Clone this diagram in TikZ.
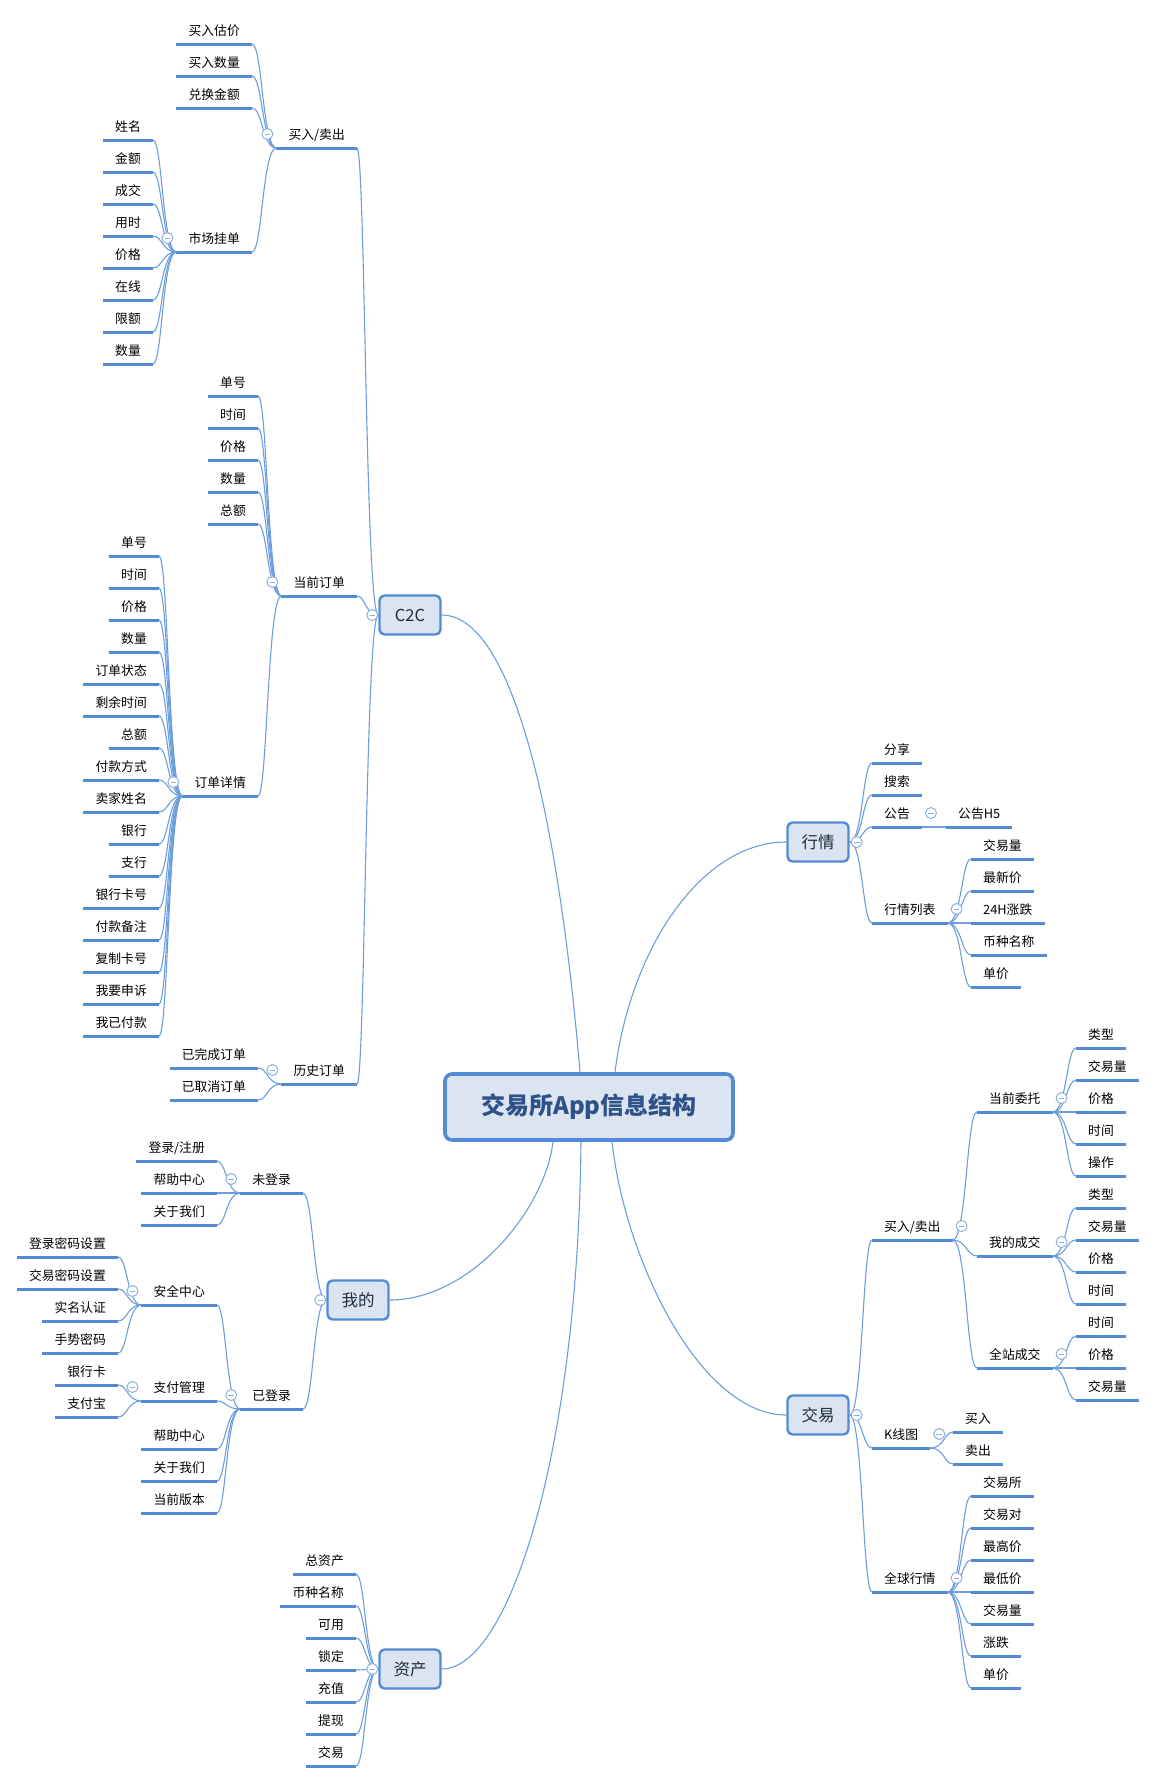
\documentclass[tikz,border=0pt]{standalone}
\usepackage{fontspec}
\setmainfont{Noto Sans CJK SC}
\usetikzlibrary{calc}

\definecolor{mblue}{HTML}{528BD4}
\definecolor{lblue}{HTML}{6C9DDC}
\definecolor{fblue}{HTML}{8FB0DE}
\definecolor{boxfill}{HTML}{DBE5F2}
\definecolor{rootblue}{HTML}{2E5288}
\definecolor{navy}{HTML}{1E2B3C}

\tikzset{
  topic/.style={font=\fontsize{12.8}{15}\selectfont, text=black, inner xsep=12pt, inner ysep=6pt,
    text height=10pt, text depth=2pt,
    append after command={(\tikzlastnode.south west) edge[uline] (\tikzlastnode.south east)}},
  uline/.style={draw=mblue, line width=3pt},
  link/.style={draw=lblue, line width=1.1pt},
  lbr/.style={to path={.. controls ($(\tikztostart)+(-#1,0)$) and ($(\tikztostart |- \tikztotarget)+(-#1,0)$) .. (\tikztotarget)}},
  lbr/.default=14,
  rbr/.style={to path={.. controls ($(\tikztostart)+(#1,0)$) and ($(\tikztostart |- \tikztotarget)+(#1,0)$) .. (\tikztotarget)}},
  rbr/.default=14,
  root/.style={draw=mblue, line width=3.6pt, fill=boxfill, rounded corners=7pt, minimum width=288pt,
    minimum height=66pt, text=rootblue, font=\bfseries\fontsize{24}{28}\selectfont},
  branch/.style={draw=mblue, line width=2.4pt, fill=boxfill, rounded corners=5pt, minimum width=61pt,
    minimum height=39pt, text=navy, font=\fontsize{16.5}{19}\selectfont},
  fold/.style={circle, draw=fblue, fill=white, line width=1pt, minimum size=11pt, inner sep=0pt,
    path picture={\draw[fblue, line width=1pt] ([xshift=-2.8pt]path picture bounding box.center) -- ([xshift=2.8pt]path picture bounding box.center);}}
}

\begin{document}
\begin{tikzpicture}[x=1pt, y=-1pt]
\useasboundingbox (0,0) rectangle (1156,1783);

% centre and main branches
\node[root] (root) at (589,1107) {交易所App信息结构};
\node[branch] (c2c) at (410,615) {C2C};
\node[branch] (wode) at (358,1300) {我的};
\node[branch] (zc) at (410,1669) {资产};
\node[branch] (hq) at (818,842) {行情};
\node[branch] (jy) at (818,1415) {交易};

\draw[link] ([xshift=-9pt]root.north) .. controls +(-23,-272) and +(68,0) .. (c2c.east);
\draw[link] ([xshift=26pt]root.north) .. controls +(15,-122) and +(-86,0) .. (hq.west);
\draw[link] ([xshift=-36pt]root.south) .. controls +(-8,68) and +(81,0) .. (wode.east);
\draw[link] ([xshift=23pt]root.south) .. controls +(13,118) and +(-86,0) .. (jy.west);
\draw[link] ([xshift=-8pt]root.south) .. controls +(-3,308) and +(68,0) .. (zc.east);

% C2C
\node[topic, anchor=south east] (mm) at (357,148) {买入/卖出};
\draw[link] (c2c.west) to[lbr=13] (mm.south east);
\foreach \t [count=\i] in {买入估价,买入数量,兑换金额} {
  \node[topic, anchor=south east] (mm\i) at (252,12+32*\i) {\t};
  \draw[link] (mm.south west) to[lbr] (mm\i.south east);
}
\node[topic, anchor=south east] (gd) at (252,252) {市场挂单};
\draw[link] (mm.south west) to[lbr] (gd.south east);
\foreach \t [count=\i] in {姓名,金额,成交,用时,价格,在线,限额,数量} {
  \node[topic, anchor=south east] (gd\i) at (153,108+32*\i) {\t};
  \draw[link] (gd.south west) to[lbr] (gd\i.south east);
}

\node[topic, anchor=south east] (dq) at (357,596) {当前订单};
\draw[link] (c2c.west) to[lbr=13] (dq.south east);
\foreach \t [count=\i] in {单号,时间,价格,数量,总额} {
  \node[topic, anchor=south east] (dq\i) at (258,364+32*\i) {\t};
  \draw[link] (dq.south west) to[lbr] (dq\i.south east);
}
\node[topic, anchor=south east] (xq) at (258,796) {订单详情};
\draw[link] (dq.south west) to[lbr] (xq.south east);
\foreach \t [count=\i] in {单号,时间,价格,数量,订单状态,剩余时间,总额,付款方式,卖家姓名,银行,支行,银行卡号,付款备注,复制卡号,我要申诉,我已付款} {
  \node[topic, anchor=south east] (xq\i) at (159,524+32*\i) {\t};
  \draw[link] (xq.south west) to[lbr] (xq\i.south east);
}

\node[topic, anchor=south east] (ls) at (357,1084) {历史订单};
\draw[link] (c2c.west) to[lbr=13] (ls.south east);
\foreach \t [count=\i] in {已完成订单,已取消订单} {
  \node[topic, anchor=south east] (ls\i) at (258,1036+32*\i) {\t};
  \draw[link] (ls.south west) to[lbr] (ls\i.south east);
}

% 我的
\node[topic, anchor=south east] (wd) at (303,1193) {未登录};
\draw[link] (wode.west) to[lbr=13] (wd.south east);
\foreach \t [count=\i] in {登录/注册,帮助中心,关于我们} {
  \node[topic, anchor=south east] (wd\i) at (217,1129+32*\i) {\t};
  \draw[link] (wd.south west) to[lbr] (wd\i.south east);
}
\node[topic, anchor=south east] (yd) at (303,1409) {已登录};
\draw[link] (wode.west) to[lbr=13] (yd.south east);
\node[topic, anchor=south east] (aq) at (217,1305) {安全中心};
\draw[link] (yd.south west) to[lbr] (aq.south east);
\foreach \t [count=\i] in {登录密码设置,交易密码设置,实名认证,手势密码} {
  \node[topic, anchor=south east] (aq\i) at (118,1225+32*\i) {\t};
  \draw[link] (aq.south west) to[lbr] (aq\i.south east);
}
\node[topic, anchor=south east] (zf) at (217,1401) {支付管理};
\draw[link] (yd.south west) to[lbr] (zf.south east);
\foreach \t [count=\i] in {银行卡,支付宝} {
  \node[topic, anchor=south east] (zf\i) at (118,1353+32*\i) {\t};
  \draw[link] (zf.south west) to[lbr] (zf\i.south east);
}
\foreach \t [count=\i] in {帮助中心,关于我们,当前版本} {
  \node[topic, anchor=south east] (yd\i) at (217,1417+32*\i) {\t};
  \draw[link] (yd.south west) to[lbr] (yd\i.south east);
}

% 资产
\foreach \t [count=\i] in {总资产,币种名称,可用,锁定,充值,提现,交易} {
  \node[topic, anchor=south east] (zc\i) at (356,1542+32*\i) {\t};
  \draw[link] (zc.west) to[lbr=13] (zc\i.south east);
}

% 行情
\foreach \t [count=\i] in {分享,搜索} {
  \node[topic, anchor=south west] (hq\i) at (872,731+32*\i) {\t};
  \draw[link] (hq.east) to[rbr=13] (hq\i.south west);
}
\node[topic, anchor=south west] (gg) at (872,827) {公告};
\draw[link] (hq.east) to[rbr=13] (gg.south west);
\node[topic, anchor=south west] (gg1) at (946,827) {公告H5};
\draw[link] (gg.south east) -- (gg1.south west);
\node[topic, anchor=south west] (lb) at (872,923) {行情列表};
\draw[link] (hq.east) to[rbr=13] (lb.south west);
\foreach \t [count=\i] in {交易量,最新价,24H涨跌,币种名称,单价} {
  \node[topic, anchor=south west] (lb\i) at (971,827+32*\i) {\t};
  \draw[link] (lb.south east) to[rbr] (lb\i.south west);
}

% 交易
\node[topic, anchor=south west] (jm) at (872,1240) {买入/卖出};
\draw[link] (jy.east) to[rbr=13] (jm.south west);
\node[topic, anchor=south west] (wt) at (977,1112) {当前委托};
\draw[link] (jm.south east) to[rbr] (wt.south west);
\foreach \t [count=\i] in {类型,交易量,价格,时间,操作} {
  \node[topic, anchor=south west] (wt\i) at (1076,1016+32*\i) {\t};
  \draw[link] (wt.south east) to[rbr] (wt\i.south west);
}
\node[topic, anchor=south west] (cj) at (977,1256) {我的成交};
\draw[link] (jm.south east) to[rbr] (cj.south west);
\foreach \t [count=\i] in {类型,交易量,价格,时间} {
  \node[topic, anchor=south west] (cj\i) at (1076,1176+32*\i) {\t};
  \draw[link] (cj.south east) to[rbr] (cj\i.south west);
}
\node[topic, anchor=south west] (qz) at (977,1368) {全站成交};
\draw[link] (jm.south east) to[rbr] (qz.south west);
\foreach \t [count=\i] in {时间,价格,交易量} {
  \node[topic, anchor=south west] (qz\i) at (1076,1304+32*\i) {\t};
  \draw[link] (qz.south east) to[rbr] (qz\i.south west);
}
\node[topic, anchor=south west] (kx) at (872,1448) {K线图};
\draw[link] (jy.east) to[rbr=13] (kx.south west);
\foreach \t [count=\i] in {买入,卖出} {
  \node[topic, anchor=south west] (kx\i) at (953,1400+32*\i) {\t};
  \draw[link] (kx.south east) to[rbr] (kx\i.south west);
}
\node[topic, anchor=south west] (qq) at (872,1592) {全球行情};
\draw[link] (jy.east) to[rbr=13] (qq.south west);
\foreach \t [count=\i] in {交易所,交易对,最高价,最低价,交易量,涨跌,单价} {
  \node[topic, anchor=south west] (qq\i) at (971,1464+32*\i) {\t};
  \draw[link] (qq.south east) to[rbr] (qq\i.south west);
}

% fold marks
\foreach \n in {mm,gd,dq,xq,ls,wd,yd,aq,zf}
  \node[fold] (f\n) at ($(\n.south west)+(-9,-14)$) {};
\foreach \n in {gg,lb,jm,wt,cj,qz,kx,qq}
  \node[fold] (f\n) at ($(\n.south east)+(9,-14)$) {};
\foreach \n in {c2c,wode,zc}
  \node[fold] (f\n) at ($(\n.west)+(-6,0)$) {};
\foreach \n in {hq,jy}
  \node[fold] (f\n) at ($(\n.east)+(7,0)$) {};
\end{tikzpicture}
\end{document}
